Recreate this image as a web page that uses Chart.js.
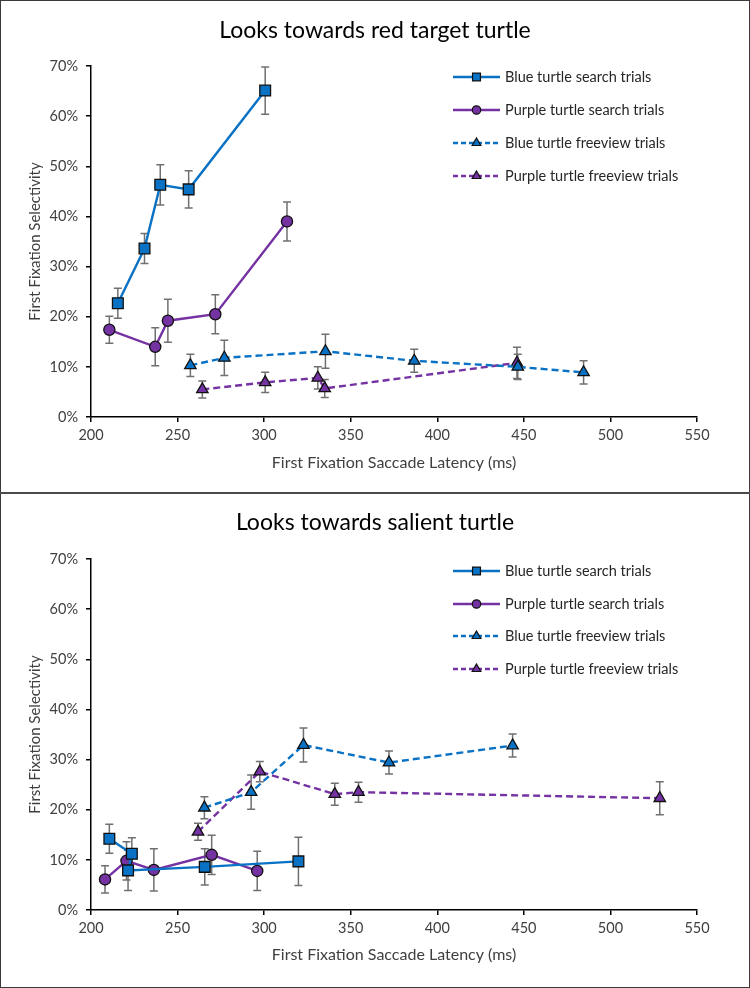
<!DOCTYPE html>
<html>
<head>
<meta charset="utf-8">
<script src="https://cdn.jsdelivr.net/npm/chart.js@4.4.1/dist/chart.umd.min.js"></script>
<style>
html,body{margin:0;padding:0;background:#fff;}
#wrap{position:relative;width:750px;height:988px;overflow:hidden;background:#fff;}
canvas{position:absolute;left:0;}
#c1{top:0;}
#c2{top:494px;}
.frame{position:absolute;left:0;top:0;width:750px;height:988px;box-sizing:border-box;border:1px solid #3a3a3a;pointer-events:none;}
.divider{position:absolute;left:0;top:492px;width:750px;height:2px;background:#4a4a4a;pointer-events:none;}
</style>
</head>
<body>
<div id="wrap">
  <canvas id="c1" width="750" height="492"></canvas>
  <canvas id="c2" width="750" height="494"></canvas>
  <div class="frame"></div>
  <div class="divider"></div>
</div>
<script>
// ---------- DATA ----------
const xMin = 200, xMax = 550, xStep = 50;
const yMin = 0, yMax = 70, yStep = 10;

const seriesNames = [
  'Blue turtle search trials',
  'Purple turtle search trials',
  'Blue turtle freeview trials',
  'Purple turtle freeview trials'
];

const titleTop = 'Looks towards red target turtle';
const titleBottom = 'Looks towards salient turtle';
const xAxisTitle = 'First Fixation Saccade Latency (ms)';
const yAxisTitle = 'First Fixation Selectivity';

// Top panel
const topBlueSearchX   = [215.5, 230.9, 240.0, 256.4, 300.6];
const topBlueSearchY   = [22.7, 33.6, 46.3, 45.4, 65.1];
const topBlueSearchErr = [3.0, 3.0, 4.0, 3.7, 4.7];

const topPurpleSearchX   = [210.6, 237.1, 244.4, 271.8, 313.2];
const topPurpleSearchY   = [17.4, 14.0, 19.2, 20.5, 39.0];
const topPurpleSearchErr = [2.7, 3.8, 4.3, 3.9, 3.9];

const topBlueFreeX   = [257.4, 277.0, 335.4, 386.7, 446.5, 484.5];
const topBlueFreeY   = [10.3, 11.8, 13.1, 11.2, 10.0, 8.9];
const topBlueFreeErr = [2.2, 3.5, 3.4, 2.3, 2.5, 2.3];

const topPurpleFreeX   = [264.3, 300.6, 331.0, 335.0, 446.0];
const topPurpleFreeY   = [5.5, 6.9, 7.8, 5.7, 10.8];
const topPurpleFreeErr = [1.7, 2.0, 2.2, 1.8, 3.1];

// Bottom panel
const botBlueSearchX   = [210.6, 223.6, 221.4, 265.7, 319.8];
const botBlueSearchY   = [14.2, 11.2, 7.9, 8.6, 9.7];
const botBlueSearchErr = [2.9, 3.2, 4.0, 3.6, 4.8];

const botPurpleSearchX   = [208.1, 220.5, 236.3, 269.7, 296.0];
const botPurpleSearchY   = [6.1, 9.8, 8.0, 11.0, 7.8];
const botPurpleSearchErr = [2.7, 3.8, 4.2, 3.9, 3.9];

const botBlueFreeX   = [265.5, 292.5, 322.7, 372.1, 443.5];
const botBlueFreeY   = [20.4, 23.5, 32.9, 29.4, 32.8];
const botBlueFreeErr = [2.2, 3.4, 3.4, 2.3, 2.3];

const botPurpleFreeX   = [261.8, 297.5, 340.8, 354.5, 528.5];
const botPurpleFreeY   = [15.6, 27.6, 23.1, 23.5, 22.3];
const botPurpleFreeErr = [1.7, 2.0, 2.2, 2.0, 3.3];

// ---------- STYLE ----------
const FONT = 'Lato, "Open Sans", "Liberation Sans", sans-serif';
const BLUE = '#0a72c4';
const PURPLE = '#7432a2';
const seriesStyles = [
  {color: BLUE,   point: 'rect',     radius: 7.6, dash: []},
  {color: PURPLE, point: 'circle',   radius: 5.6, dash: []},
  {color: BLUE,   point: 'triangle', radius: 6.6, dash: [7, 4]},
  {color: PURPLE, point: 'triangle', radius: 6.6, dash: [7, 4]}
];

function pts(xs, ys) { return xs.map((x, i) => ({x: x, y: ys[i]})); }

function buildDatasets(list) {
  return list.map((s, i) => {
    const st = seriesStyles[i];
    return {
      label: seriesNames[i],
      data: pts(s[0], s[1]),
      errors: s[2],
      borderColor: st.color,
      backgroundColor: st.color,
      borderWidth: 2.4,
      borderDash: st.dash,
      pointStyle: st.point,
      pointRadius: st.radius,
      pointHoverRadius: st.radius,
      pointBackgroundColor: st.color,
      pointBorderColor: '#111',
      pointBorderWidth: 1.3,
      tension: 0,
      fill: false
    };
  });
}

const errorBarPlugin = {
  id: 'errbars',
  beforeDatasetsDraw(chart) {
    const ctx = chart.ctx, xs = chart.scales.x, ys = chart.scales.y;
    ctx.save();
    ctx.strokeStyle = '#707070';
    ctx.lineWidth = 1.5;
    chart.data.datasets.forEach(ds => {
      ds.data.forEach((p, j) => {
        const e = ds.errors[j];
        const px = xs.getPixelForValue(p.x);
        const y1 = ys.getPixelForValue(p.y + e);
        const y2 = ys.getPixelForValue(p.y - e);
        ctx.beginPath();
        ctx.moveTo(px, y1); ctx.lineTo(px, y2);
        ctx.moveTo(px - 4, y1); ctx.lineTo(px + 4, y1);
        ctx.moveTo(px - 4, y2); ctx.lineTo(px + 4, y2);
        ctx.stroke();
      });
    });
    ctx.restore();
  }
};

function drawMarker(ctx, style, x, y, r, fill) {
  ctx.beginPath();
  if (style === 'rect') {
    const s = r * Math.SQRT1_2;
    ctx.rect(x - s, y - s, 2 * s, 2 * s);
  } else if (style === 'circle') {
    ctx.arc(x, y, r, 0, Math.PI * 2);
  } else {
    let a = 0;
    ctx.moveTo(x + Math.sin(a) * r, y - Math.cos(a) * r);
    a += 2 * Math.PI / 3;
    ctx.lineTo(x + Math.sin(a) * r, y - Math.cos(a) * r);
    a += 2 * Math.PI / 3;
    ctx.lineTo(x + Math.sin(a) * r, y - Math.cos(a) * r);
    ctx.closePath();
  }
  ctx.fillStyle = fill;
  ctx.fill();
  ctx.lineWidth = 1.2;
  ctx.strokeStyle = '#111';
  ctx.stroke();
}

function makePanelPlugin(title, titleY, xTitleY, legendRows) {
  return {
    id: 'panelText',
    afterDraw(chart) {
      const ctx = chart.ctx;
      const ca = chart.chartArea;
      ctx.save();
      ctx.textAlign = 'center';
      ctx.textBaseline = 'middle';
      ctx.fillStyle = '#000';
      ctx.font = '23px ' + FONT;
      ctx.fillText(title, 375, titleY);
      ctx.fillStyle = '#404040';
      ctx.font = '16px ' + FONT;
      ctx.fillText(xAxisTitle, (ca.left + ca.right) / 2, xTitleY);
      // legend
      chart.data.datasets.forEach((ds, i) => {
        const st = seriesStyles[i];
        const y = legendRows[i];
        ctx.save();
        ctx.strokeStyle = st.color;
        ctx.lineWidth = 2.4;
        ctx.setLineDash(st.dash.length ? [5, 3] : []);
        ctx.beginPath();
        ctx.moveTo(453, y); ctx.lineTo(500, y);
        ctx.stroke();
        ctx.setLineDash([]);
        drawMarker(ctx, st.point, 476.5, y, st.point === 'rect' ? 5.6 : (st.point === 'circle' ? 4.2 : 5.0), st.color);
        ctx.restore();
        ctx.fillStyle = '#262626';
        ctx.font = '14.5px ' + FONT;
        ctx.textAlign = 'left';
        ctx.fillText(ds.label, 505, y);
      });
      ctx.restore();
    }
  };
}

function makeChart(canvasId, series, title, titleY, xTitleY, legendRows, padTop, xAxisHeight) {
  return new Chart(document.getElementById(canvasId), {
    type: 'line',
    data: {datasets: buildDatasets(series)},
    options: {
      responsive: false,
      animation: false,
      events: [],
      layout: {padding: {top: padTop, right: 53, left: 0, bottom: 0}},
      plugins: {legend: {display: false}, title: {display: false}, tooltip: {enabled: false}},
      scales: {
        x: {
          type: 'linear', min: xMin, max: xMax,
          ticks: {stepSize: xStep, color: '#404040', font: {family: FONT, size: 14.5}, padding: 5, maxRotation: 0},
          grid: {drawOnChartArea: false, drawTicks: true, tickLength: 5, color: '#000', lineWidth: 1.5},
          border: {display: true, color: '#000', width: 1.5},
          afterFit(s) { s.height = xAxisHeight; }
        },
        y: {
          type: 'linear', min: yMin, max: yMax,
          ticks: {stepSize: yStep, color: '#404040', font: {family: FONT, size: 14.5}, padding: 8,
                  callback: v => v + '%'},
          grid: {drawOnChartArea: false, drawTicks: true, tickLength: 5, color: '#000', lineWidth: 1.5},
          border: {display: true, color: '#000', width: 1.5},
          title: {display: true, text: yAxisTitle, color: '#404040', font: {family: FONT, size: 15}, padding: {top: 26, bottom: 0}},
          afterFit(s) { s.width = 91; }
        }
      }
    },
    plugins: [errorBarPlugin, makePanelPlugin(title, titleY, xTitleY, legendRows)]
  });
}

makeChart('c1', [
  [topBlueSearchX, topBlueSearchY, topBlueSearchErr],
  [topPurpleSearchX, topPurpleSearchY, topPurpleSearchErr],
  [topBlueFreeX, topBlueFreeY, topBlueFreeErr],
  [topPurpleFreeX, topPurpleFreeY, topPurpleFreeErr]
], titleTop, 31, 463, [77, 110, 143, 176], 66, 75);

makeChart('c2', [
  [botBlueSearchX, botBlueSearchY, botBlueSearchErr],
  [botPurpleSearchX, botPurpleSearchY, botPurpleSearchErr],
  [botBlueFreeX, botBlueFreeY, botBlueFreeErr],
  [botPurpleFreeX, botPurpleFreeY, botPurpleFreeErr]
], titleBottom, 29, 461, [77, 110, 142, 175], 65, 78);
</script>
</body>
</html>
